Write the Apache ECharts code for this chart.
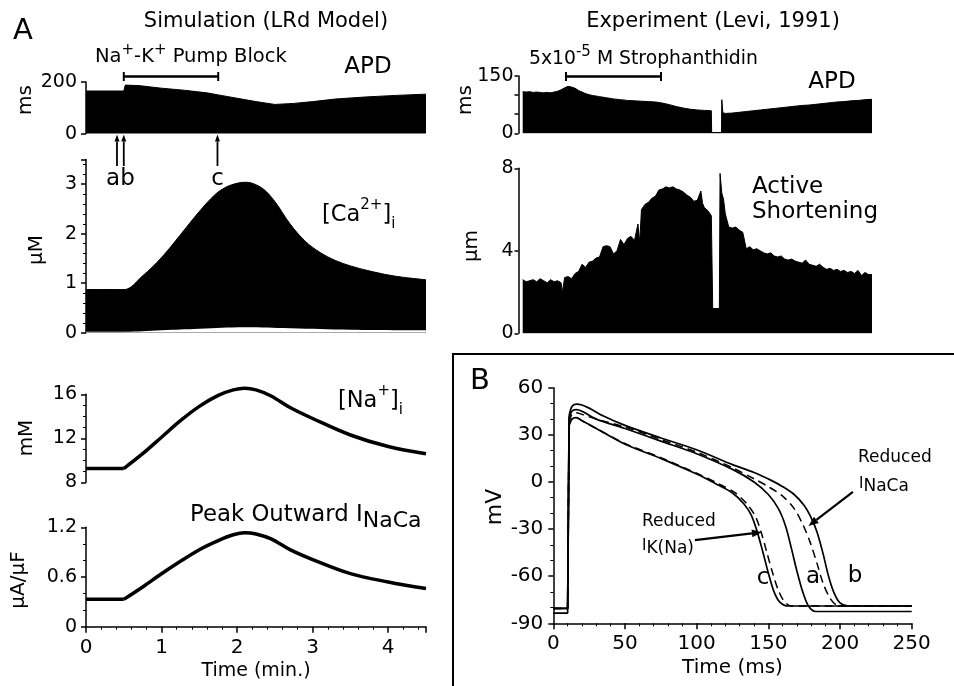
<!DOCTYPE html>
<html><head><meta charset="utf-8">
<script src="https://cdn.jsdelivr.net/npm/echarts@6/dist/echarts.min.js"></script>
<style>html,body{margin:0;padding:0;background:#fff}#c{width:954px;height:686px}</style>
</head><body><div id="c"></div>
<script>
const FONT = 'DejaVu Sans';

// ---- Panel A, simulation (time in minutes) ----
const simApdTime = [0,0.5,0.52,0.7,1.0,1.3,1.6,1.75,2.0,2.25,2.5,2.75,3.0,3.3,3.7,4.1,4.5];
const simApdMs   = [165,165,188,186,176,168,158,150,137,124,113,117,124,134,142,148,153];

const caSysTime = [0,0.5,0.75,1.0,1.25,1.5,1.7,1.85,2.0,2.1,2.2,2.35,2.5,2.7,2.9,3.1,3.3,3.5,3.8,4.1,4.5];
const caSys     = [0.87,0.87,1.15,1.52,1.98,2.45,2.78,2.94,3.02,3.04,3.02,2.9,2.65,2.2,1.85,1.62,1.46,1.35,1.23,1.14,1.07];
const caDiaTime = [0,0.5,1.0,1.5,2.1,2.7,3.5,4.5];
const caDia     = [0.02,0.02,0.05,0.08,0.11,0.09,0.06,0.05];

const naTime = [0,0.5,0.75,1.0,1.25,1.5,1.75,1.95,2.1,2.25,2.45,2.7,3.0,3.5,4.0,4.5];
const naMM   = [9.25,9.25,10.6,12.1,13.6,14.9,15.9,16.4,16.55,16.4,15.85,14.8,13.8,12.3,11.25,10.6];
const incaTime = [0,0.5,0.75,1.0,1.25,1.5,1.75,1.95,2.1,2.25,2.45,2.7,3.0,3.5,4.0,4.5];
const incaVal  = [0.33,0.33,0.48,0.64,0.79,0.93,1.04,1.11,1.135,1.12,1.06,0.93,0.81,0.64,0.54,0.46];

// ---- Panel A, experiment (relative time units 0-100) ----
const expApdX = [0,1,2,3,4,5,6,7,8,9,10,11,12,13,14,15,16,17,18,19,20,22,24,26,28,30,32,34,36,38,40,42,44,46,48,50,52,54,54.1,56.9,57,57.3,58,60,62,64,66,68,70,72,74,76,78,80,82,84,86,88,90,92,94,96,98,100];
const expApdMs = [109,108,109,107,108,107,106,107,106,108,110,114,119,123,121,118,112,108,104,101,99,96,93,90,88,86,85,84,83,82,79,75,70,66,63,61,60,59,2,2,88,54,52,53,55,57,59,61,63,65,67,69,71,73,74,76,78,80,82,83,85,86,88,89];

const shortX = [0,1,2,3,4,5,6,7,8,9,10,11,11.4,12,13,14,15,16,17,18,19,20,21,22,23,24,25,26,27,28,29,30,31,32,33,33.5,34,35,36,37,38,39,40,41,42,43,44,45,46,47,48,49,50,51,51.5,52,53,54,54.4,56.3,56.5,57,57.5,58,59,60,61,62,63,64,65,66,67,68,69,70,71,72,73,74,75,76,77,78,79,80,81,82,83,84,85,86,87,88,89,90,91,92,93,94,95,96,97,98,99,100];
const shortUm = [2.6,2.5,2.55,2.6,2.5,2.65,2.55,2.45,2.6,2.5,2.55,2.45,2.0,2.7,2.75,2.65,2.9,3.0,3.35,3.2,3.45,3.5,3.65,3.7,4.2,4.25,4.2,3.85,4.0,4.55,4.3,4.6,4.7,4.5,5.3,4.4,6.0,6.25,6.35,6.55,6.65,6.95,7.0,7.1,7.05,7.1,7.0,6.95,6.85,6.7,6.6,6.4,6.45,6.9,6.3,6.1,5.95,5.7,1.2,1.2,7.75,6.8,6.5,5.8,5.15,5.1,5.15,5.0,4.9,4.1,4.2,4.05,4.1,4.0,3.9,3.85,3.9,3.75,3.7,3.75,3.6,3.55,3.6,3.5,3.45,3.4,3.55,3.35,3.3,3.25,3.35,3.2,3.1,3.15,3.05,3.1,3.0,3.05,2.95,3.0,2.9,3.05,2.8,2.95,2.85,2.85];

// ---- Panel B, action potentials (ms, mV) ----
const apBTime = [0,10,11,13,16,20,25,35,50,75,100,125,140,152,160,168,175,180,184,188,192,196,200,206,250];
const apB     = [-80.5,-80.5,42,48,49.5,49,47,42,36,28,20.5,11,6,1,-3,-8,-15,-23,-32,-45,-60,-71,-77,-79,-79];
const apBdTime = [0,10,11,13,16,20,30,50,75,100,125,140,150,160,168,174,179,184,188,193,198,205,250];
const apBd     = [-80.5,-80.5,38,43,44,43,40,35,27,19,9,2,-3,-9,-17,-27,-38,-52,-64,-74,-78.5,-79,-79];
const apATime = [0,10,11,13,16,20,30,50,75,100,125,140,150,157,162,166,170,174,178,183,250];
const apA     = [-83.5,-83.5,40,45,46,45,40,34,26,18,8,0,-8,-17,-28,-42,-57,-70,-79,-82.5,-82.5];
const apCTime = [0,10,11,13,16,20,30,50,75,100,113,125,133,138,142,146,150,154,158,164,250];
const apC     = [-80.5,-80.5,36,40,41,39,34,24,15,5,-1,-7,-14,-21,-31,-44,-58,-70,-76.5,-79,-79];
const apCdTime = [0,10,11,13,16,20,30,50,75,100,115,127,135,141,145,149,153,157,161,166,250];
const apCd     = [-80.5,-80.5,36,40,41,39,34,24.5,15.5,5.5,-1,-7,-14,-22,-32,-45,-58,-69,-76,-79,-79];

const pairs = (xs, ys) => xs.map((x, i) => [x, ys[i]]);
const seg = (xs, ys, a, b) => pairs(xs, ys).slice(a, b);

const chart = echarts.init(document.getElementById('c'), null, {renderer: 'canvas'});

const TICKFS = 19;
function yAx(gi, o) {
  return Object.assign({
    type: 'value', gridIndex: gi,
    axisLine: {show: true, onZero: false, lineStyle: {color: '#000', width: 1.5}},
    axisTick: {show: true, length: 5, lineStyle: {color: '#000', width: 1.5}},
    minorTick: {show: false},
    axisLabel: {color: '#000', fontFamily: FONT, fontSize: TICKFS, margin: 9},
    splitLine: {show: false}, minorSplitLine: {show: false}
  }, o);
}
function xHidden(gi, min, max) {
  return {type: 'value', gridIndex: gi, min: min, max: max, show: false, splitLine: {show: false}};
}
const minor = (n, len) => ({show: true, splitNumber: n, length: len || 3, lineStyle: {color: '#000', width: 1}});
const intOnly = v => (Math.abs(v - Math.round(v)) < 1e-9 ? String(Math.round(v)) : '');

const grids = [
  {left: 86, top: 82, width: 340, height: 51.6},
  {left: 86, top: 159.5, width: 340, height: 173.2},
  {left: 86, top: 394.3, width: 340, height: 88},
  {left: 86, top: 527.3, width: 340, height: 99.4},
  {left: 518.5, top: 76, width: 353.5, height: 57.3},
  {left: 518.5, top: 168.3, width: 353.5, height: 165},
  {left: 553.3, top: 387.7, width: 358.4, height: 235.6}
].map(g => Object.assign({containLabel: false, outerBoundsMode: 'none'}, g));

const blackArea = (xi, data, extra) => Object.assign({type: 'line', xAxisIndex: xi, yAxisIndex: xi, data: data,
  showSymbol: false, silent: true, lineStyle: {color: '#000', width: 1}, areaStyle: {color: '#000', opacity: 1}}, extra || {});
const curve = (xi, data, w, extra) => Object.assign({type: 'line', xAxisIndex: xi, yAxisIndex: xi, data: data,
  showSymbol: false, silent: true, lineStyle: {color: '#000', width: w}}, extra || {});
const dashed = (xi, data, extra) => curve(xi, data, 1.5, Object.assign({lineStyle: {color: '#000', width: 1.5, type: [8, 5]}}, extra || {}));

const option = {
  animation: false,
  backgroundColor: '#fff',
  textStyle: {fontFamily: FONT, color: '#000'},
  grid: grids,
  xAxis: [
    xHidden(0, 0, 4.5), xHidden(1, 0, 4.5), xHidden(2, 0, 4.5),
    {type: 'value', gridIndex: 3, min: 0, max: 4.5, interval: 1,
      axisLine: {show: true, onZero: false, lineStyle: {color: '#000', width: 1.5}},
      axisTick: {show: true, length: 6, lineStyle: {color: '#000', width: 1.5}},
      minorTick: minor(5, 3),
      axisLabel: {color: '#000', fontFamily: FONT, fontSize: 20, margin: 11, formatter: intOnly},
      splitLine: {show: false},
      name: 'Time (min.)', nameLocation: 'middle', nameGap: 35,
      nameTextStyle: {color: '#000', fontFamily: FONT, fontSize: 19}},
    xHidden(4, -1.2, 100), xHidden(5, -1.2, 100),
    {type: 'value', gridIndex: 6, min: 0, max: 250, interval: 50,
      axisLine: {show: true, onZero: false, lineStyle: {color: '#000', width: 1.5}},
      axisTick: {show: true, length: 6, lineStyle: {color: '#000', width: 1.5}},
      minorTick: minor(5, 3),
      axisLabel: {color: '#000', fontFamily: FONT, fontSize: 20, margin: 10},
      splitLine: {show: false},
      name: 'Time (ms)', nameLocation: 'middle', nameGap: 34,
      nameTextStyle: {color: '#000', fontFamily: FONT, fontSize: 20}}
  ],
  yAxis: [
    yAx(0, {min: 0, max: 200, interval: 200}),
    yAx(1, {min: 0, max: 3.5, interval: 1, minorTick: minor(5, 3),
      axisLabel: {color: '#000', fontFamily: FONT, fontSize: TICKFS, margin: 9, formatter: intOnly}}),
    yAx(2, {min: 8, max: 16, interval: 4, minorTick: minor(4, 3)}),
    yAx(3, {min: 0, max: 1.2, interval: 0.6, minorTick: minor(3, 3)}),
    yAx(4, {min: 0, max: 150, interval: 50, axisTick: {show: true, length: 4, lineStyle: {color: '#000', width: 1.5}},
      axisLabel: {color: '#000', fontFamily: FONT, fontSize: TICKFS, margin: 5,
        formatter: v => (v === 0 || v === 150 ? String(v) : '')}}),
    yAx(5, {min: 0, max: 8, interval: 4, axisTick: {show: true, length: 4, lineStyle: {color: '#000', width: 1.5}},
      axisLabel: {color: '#000', fontFamily: FONT, fontSize: TICKFS, margin: 5}}),
    yAx(6, {min: -90, max: 60, interval: 30, minorTick: minor(3, 3),
      axisLabel: {color: '#000', fontFamily: FONT, fontSize: 20, margin: 10}})
  ],
  series: [
    blackArea(0, pairs(simApdTime, simApdMs)),
    // smoothed whole curve, with the flat pre-block segment drawn straight on top of it
    blackArea(1, pairs(caSysTime, caSys), {smooth: 0.35, z: 2}),
    blackArea(1, seg(caSysTime, caSys, 0, 2), {z: 3}),
    {type: 'line', xAxisIndex: 1, yAxisIndex: 1, data: pairs(caDiaTime, caDia), showSymbol: false, silent: true,
      smooth: 0.4, lineStyle: {width: 0, color: '#fff'}, areaStyle: {color: '#fff', opacity: 1}, z: 4},
    curve(2, seg(naTime, naMM, 0, 2), 3.5, {clip: false}),
    curve(2, seg(naTime, naMM, 1), 3.5, {smooth: 0.35, clip: false}),
    curve(3, seg(incaTime, incaVal, 0, 2), 3.5),
    curve(3, seg(incaTime, incaVal, 1), 3.5, {smooth: 0.35}),
    blackArea(4, pairs(expApdX, expApdMs)),
    blackArea(5, pairs(shortX, shortUm)),
    // panel B: resting + upstroke (straight), then plateau/repolarisation (smoothed)
    curve(6, seg(apBTime, apB, 0, 3), 1.7), curve(6, seg(apBTime, apB, 2), 1.7, {smooth: 0.3}),
    dashed(6, seg(apBdTime, apBd, 0, 3)), dashed(6, seg(apBdTime, apBd, 2), {smooth: 0.3}),
    curve(6, seg(apATime, apA, 0, 3), 1.7), curve(6, seg(apATime, apA, 2), 1.7, {smooth: 0.3}),
    curve(6, seg(apCTime, apC, 0, 3), 1.7), curve(6, seg(apCTime, apC, 2), 1.7, {smooth: 0.3}),
    dashed(6, seg(apCdTime, apCd, 0, 3)), dashed(6, seg(apCdTime, apCd, 2), {smooth: 0.3})
  ]
};
chart.setOption(option);

// ---------- annotations ----------
const px = (gi, x, y) => chart.convertToPixel({gridIndex: gi}, [x, y]);
const G = [];
function text(x, y, s, size, align, extra) {
  const el = Object.assign({type: 'text', x: x, y: y, silent: true, z: 100,
    style: {text: s, fill: '#000', fontFamily: FONT, fontSize: size,
      align: align || 'center', textAlign: align || 'center',
      verticalAlign: 'middle', textVerticalAlign: 'middle'}}, extra || {});
  G.push(el);
}
function rich(x, y, s, styles, align) {
  G.push({type: 'text', x: x, y: y, silent: true, z: 100,
    style: {text: s, rich: styles, fill: '#000', fontFamily: FONT,
      align: align || 'left', textAlign: align || 'left',
      verticalAlign: 'middle', textVerticalAlign: 'middle'}});
}
function line(x1, y1, x2, y2, w) {
  G.push({type: 'line', silent: true, z: 100, shape: {x1: x1, y1: y1, x2: x2, y2: y2},
    style: {stroke: '#000', lineWidth: w || 2}});
}
function arrow(x1, y1, x2, y2, w, hl, hw) {
  const dx = x2 - x1, dy = y2 - y1, L = Math.hypot(dx, dy), ux = dx / L, uy = dy / L;
  const bx = x2 - ux * hl, by = y2 - uy * hl;
  line(x1, y1, bx, by, w);
  G.push({type: 'polygon', silent: true, z: 100,
    shape: {points: [[x2, y2], [bx - uy * hw, by + ux * hw], [bx + uy * hw, by - ux * hw]]},
    style: {fill: '#000'}});
}
const R = (m, sup, sub) => ({
  m: {fontFamily: FONT, fontSize: m, lineHeight: Math.round(m * 1.5), verticalAlign: 'middle', fill: '#000'},
  sup: {fontFamily: FONT, fontSize: sup, verticalAlign: 'top', fill: '#000'},
  sub: {fontFamily: FONT, fontSize: sub, verticalAlign: 'bottom', fill: '#000'}
});

// titles and panel letters
text(23, 31, 'A', 29);
text(266, 22, 'Simulation (LRd Model)', 21);
text(713, 22, 'Experiment (Levi, 1991)', 21);
text(480, 381, 'B', 29);

// pump block bar (t = 0.5 .. 1.75 min)
const pb0 = px(0, 0.5, 0)[0], pb1 = px(0, 1.75, 0)[0];
line(pb0, 76.5, pb1, 76.5, 2.4); line(pb0, 72, pb0, 81, 2); line(pb1, 72, pb1, 81, 2);
rich(95, 57, '{m|Na}{sup|+}{m|-K}{sup|+}{m| Pump Block}', R(19.5, 15, 12));
text(368, 67, 'APD', 23);

// strophanthidin bar
const sb0 = px(4, 12.4, 0)[0], sb1 = px(4, 39.6, 0)[0];
line(sb0, 76.5, sb1, 76.5, 2.4); line(sb0, 72, sb0, 81, 2); line(sb1, 72, sb1, 81, 2);
rich(529, 59, '{m|5x10}{sup|-5}{m| M Strophanthidin}', R(18.8, 15, 12));
text(832, 82, 'APD', 23);

// arrows a, b, c
const y0 = px(0, 0, 0)[1];
[0.41, 0.5, 1.74].forEach(t => { const x = px(0, t, 0)[0]; arrow(x, 166, x, y0 + 1, 1.8, 7, 2.5); });
text((px(0, 0.41, 0)[0] + px(0, 0.5, 0)[0]) / 2, 179, 'ab', 23);
text(px(0, 1.74, 0)[0], 179, 'c', 23);

// species labels
rich(322, 215, '{m|[Ca}{sup|2+}{m|]}{sub|i}', R(22.5, 15, 15));
rich(338, 401, '{m|[Na}{sup|+}{m|]}{sub|i}', R(22.5, 15, 15));
rich(190, 515, '{m|Peak Outward I}{sub|NaCa}', R(22.8, 15, 22));
text(752, 187, 'Active', 23, 'left');
text(752, 212, 'Shortening', 23, 'left');

// y axis names (rotated)
const rot = {rotation: Math.PI / 2};
text(26, 100, 'ms', 20, 'center', rot);
text(37, 250, 'μM', 20, 'center', rot);
text(27, 438, 'mM', 20, 'center', rot);
text(19, 580, 'μA/μF', 20, 'center', rot);
text(466, 100, 'ms', 20, 'center', rot);
text(472, 246, 'μm', 20, 'center', rot);
text(495, 507, 'mV', 22, 'center', rot);

// panel B frame
line(453, 354, 453, 686, 2);
line(452, 354, 954, 354, 2);

// panel B annotations
text(858, 458, 'Reduced', 17, 'left');
rich(859, 484, '{m|I}{sub|NaCa}', R(15, 12, 17));
const a1 = px(6, 209, -6.4), a2 = px(6, 178, -28);
arrow(a1[0], a1[1], a2[0], a2[1], 2.2, 10, 4);
text(642, 522, 'Reduced', 17, 'left');
rich(642, 546, '{m|I}{sub|K(Na)}', R(15, 12, 17));
const b1 = px(6, 98.8, -37), b2 = px(6, 145.5, -32);
arrow(b1[0], b1[1], b2[0], b2[1], 2.2, 10, 4);
text(763, 578, 'c', 23);
text(813, 577, 'a', 23);
text(855, 576, 'b', 23);

chart.setOption({graphic: G});
</script>
</body></html>
